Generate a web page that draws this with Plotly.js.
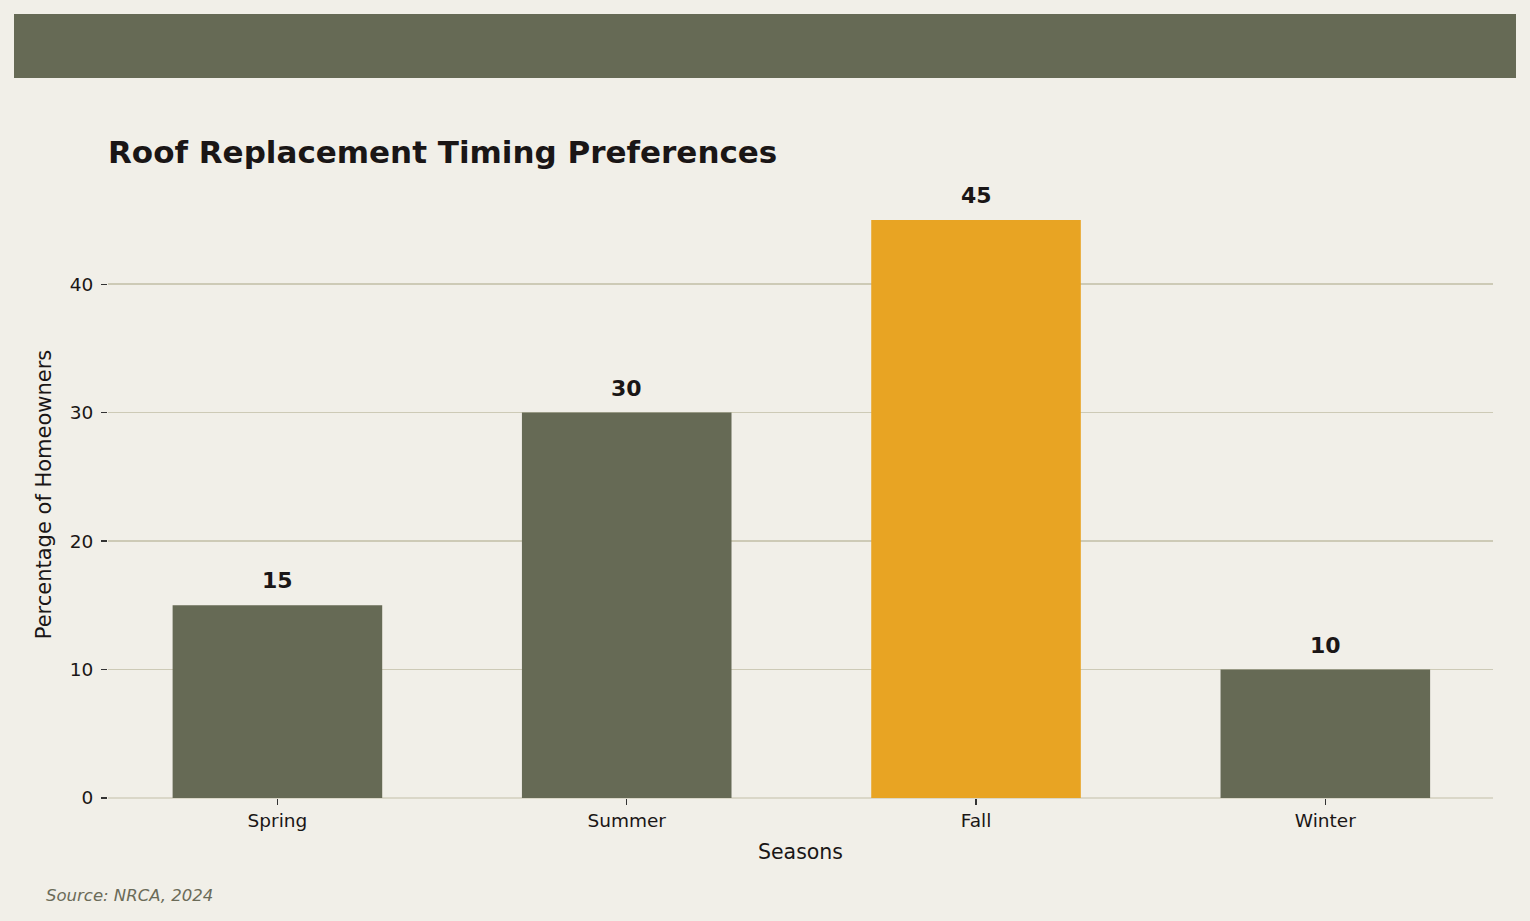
<!DOCTYPE html>
<html>
<head>
<meta charset="utf-8">
<script src="https://cdn.plot.ly/plotly-3.0.1.min.js"></script>
<style>
  html, body { margin: 0; padding: 0; background: #f1efe8; }
  #chart { width: 1530px; height: 921px; }
</style>
</head>
<body>
<div id="chart"></div>
<script>
// Season preference data
const seasons = ['Spring', 'Summer', 'Fall', 'Winter'];
const percentages = [15, 30, 45, 10];
const barColors = ['#666a55', '#666a55', '#e8a423', '#666a55'];

const FONT = 'DejaVu Sans, sans-serif';
const INK = '#1a1616';

const trace = {
  type: 'bar',
  x: seasons,
  y: percentages,
  marker: { color: barColors, line: { width: 0 } },
  width: 0.6,
  hoverinfo: 'x+y'
};

// value labels above each bar
const valueLabels = seasons.map((s, i) => ({
  x: s,
  y: percentages[i],
  xref: 'x',
  yref: 'y',
  text: '<b>' + percentages[i] + '</b>',
  showarrow: false,
  yanchor: 'bottom',
  yshift: 10,
  font: { family: FONT, size: 22, color: INK }
}));

const layout = {
  width: 1530,
  height: 921,
  paper_bgcolor: '#f1efe8',
  plot_bgcolor: '#f1efe8',
  margin: { l: 108, r: 37, t: 191, b: 123 },
  showlegend: false,
  bargap: 0.4,
  title: {
    text: '<b>Roof Replacement Timing Preferences</b>',
    font: { family: FONT, size: 31, color: INK },
    x: 0, xref: 'paper', xanchor: 'left',
    y: 1 - 152 / 921, yref: 'container', yanchor: 'middle'
  },
  xaxis: {
    type: 'category',
    range: [-0.485, 3.48],
    showgrid: false,
    zeroline: false,
    showline: false,
    ticks: 'outside',
    ticklen: 6,
    tickwidth: 1.2,
    tickcolor: '#333333',
    tickfont: { family: FONT, size: 18.5, color: INK },
    title: { text: 'Seasons', font: { family: FONT, size: 20.5, color: INK }, standoff: 14 }
  },
  yaxis: {
    range: [0, 47.25],
    tickvals: [0, 10, 20, 30, 40],
    showgrid: true,
    gridcolor: '#cdcab6',
    gridwidth: 1.5,
    zeroline: true,
    zerolinecolor: '#dad7c8',
    zerolinewidth: 1.2,
    showline: false,
    ticks: 'outside',
    ticklen: 6,
    tickwidth: 1.2,
    tickcolor: '#333333',
    ticklabelstandoff: 4,
    tickfont: { family: FONT, size: 18.5, color: INK },
    title: { text: 'Percentage of Homeowners', font: { family: FONT, size: 21, color: INK }, standoff: 12 }
  },
  shapes: [
    {
      // header band
      type: 'rect', xref: 'paper', yref: 'paper',
      x0: (14 - 108) / 1385, x1: (1516 - 108) / 1385,
      y0: (798 - 78) / 607, y1: (798 - 14) / 607,
      fillcolor: '#666a55', line: { width: 0 }, layer: 'below'
    }
  ],
  annotations: valueLabels.concat([
    {
      text: '<i>Source: NRCA, 2024</i>',
      xref: 'paper', yref: 'paper',
      x: (44 - 108) / 1385, xanchor: 'left',
      y: (798 - 896) / 607, yanchor: 'middle',
      showarrow: false,
      font: { family: FONT, size: 16.5, color: '#6b6b58' }
    }
  ])
};

Plotly.newPlot('chart', [trace], layout, { displayModeBar: false, staticPlot: true });
</script>
</body>
</html>
